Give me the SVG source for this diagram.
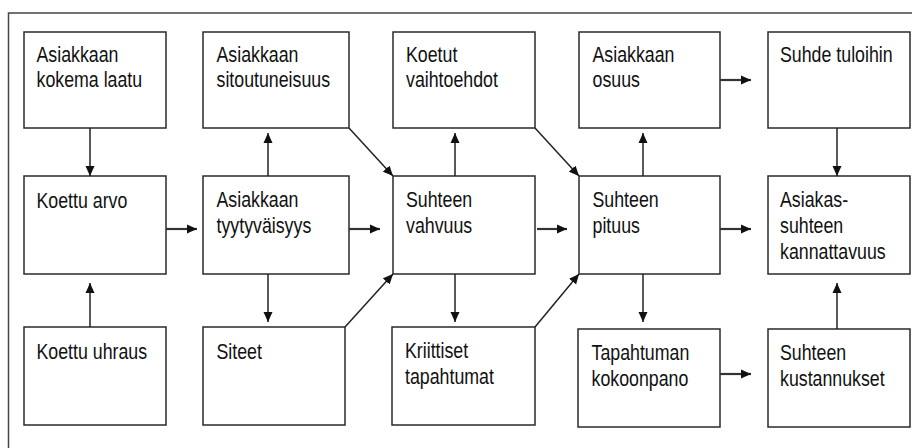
<svg xmlns="http://www.w3.org/2000/svg" width="912" height="448" viewBox="0 0 912 448">
<style>
.box{fill:#fff;stroke:#2a2a2a;stroke-width:1.5}
.t{font-family:"Liberation Sans",Arial,sans-serif;font-size:22.5px;fill:#111}
.c{fill:none;stroke:#222;stroke-width:1.5}
.h{fill:none;stroke:#333;stroke-width:2.2}
.frame{fill:none;stroke:#444;stroke-width:1.5}
</style>
<defs>
<marker id="a" markerUnits="userSpaceOnUse" markerWidth="10" markerHeight="10" refX="10" refY="5" orient="auto">
<path d="M0,0.5 L10,5 L0,9.5 z" fill="#111"/>
</marker>
</defs>
<rect width="912" height="448" fill="#fff"/>
<path class="frame" d="M912,13 H8.5 V448"/>
<g id="n1"><rect class="box" x="24" y="32" width="142" height="96"/><text class="t" transform="translate(36.5,61.5) scale(0.79,1)"><tspan x="0">Asiakkaan</tspan><tspan x="0" dy="26">kokema laatu</tspan></text></g>
<g id="n2"><rect class="box" x="203" y="32" width="146" height="96"/><text class="t" transform="translate(216.5,61.5) scale(0.79,1)"><tspan x="0">Asiakkaan</tspan><tspan x="0" dy="26">sitoutuneisuus</tspan></text></g>
<g id="n3"><rect class="box" x="393" y="32" width="142" height="96"/><text class="t" transform="translate(406,61.5) scale(0.79,1)"><tspan x="0">Koetut</tspan><tspan x="0" dy="26">vaihtoehdot</tspan></text></g>
<g id="n4"><rect class="box" x="579" y="32" width="141" height="96"/><text class="t" transform="translate(592.5,61.5) scale(0.79,1)"><tspan x="0">Asiakkaan</tspan><tspan x="0" dy="26">osuus</tspan></text></g>
<g id="n5"><rect class="box" x="768" y="32" width="142" height="96"/><text class="t" transform="translate(780,61.5) scale(0.79,1)"><tspan x="0">Suhde tuloihin</tspan></text></g>
<g id="n6"><rect class="box" x="24" y="176" width="142" height="98"/><text class="t" transform="translate(36.5,207.5) scale(0.79,1)"><tspan x="0">Koettu arvo</tspan></text></g>
<g id="n7"><rect class="box" x="203" y="176" width="146" height="98"/><text class="t" transform="translate(216.5,207) scale(0.79,1)"><tspan x="0">Asiakkaan</tspan><tspan x="0" dy="26">tyytyväisyys</tspan></text></g>
<g id="n8"><rect class="box" x="393" y="176" width="142" height="98"/><text class="t" transform="translate(406,207) scale(0.79,1)"><tspan x="0">Suhteen</tspan><tspan x="0" dy="26">vahvuus</tspan></text></g>
<g id="n9"><rect class="box" x="579" y="176" width="141" height="98"/><text class="t" transform="translate(592.5,207) scale(0.79,1)"><tspan x="0">Suhteen</tspan><tspan x="0" dy="26">pituus</tspan></text></g>
<g id="n10"><rect class="box" x="768" y="176" width="142" height="98"/><text class="t" transform="translate(780,207) scale(0.79,1)"><tspan x="0">Asiakas-</tspan><tspan x="0" dy="26">suhteen</tspan><tspan x="0" dy="26">kannattavuus</tspan></text></g>
<g id="n11"><rect class="box" x="24" y="327" width="142" height="98"/><text class="t" transform="translate(36.5,359) scale(0.79,1)"><tspan x="0">Koettu uhraus</tspan></text></g>
<g id="n12"><rect class="box" x="203" y="327" width="142" height="98"/><text class="t" transform="translate(216.5,359) scale(0.79,1)"><tspan x="0">Siteet</tspan></text></g>
<g id="n13"><rect class="box" x="392" y="327" width="143" height="98"/><text class="t" transform="translate(405,358) scale(0.79,1)"><tspan x="0">Kriittiset</tspan><tspan x="0" dy="26">tapahtumat</tspan></text></g>
<g id="n14"><rect class="box" x="578" y="329" width="142" height="98"/><text class="t" transform="translate(591.5,360) scale(0.79,1)"><tspan x="0">Tapahtuman</tspan><tspan x="0" dy="26">kokoonpano</tspan></text></g>
<g id="n15"><rect class="box" x="768" y="329" width="142" height="98"/><text class="t" transform="translate(780,360) scale(0.79,1)"><tspan x="0">Suhteen</tspan><tspan x="0" dy="26">kustannukset</tspan></text></g>
<g id="connectors">
<path class="c" d="M90,128 V176" marker-end="url(#a)"/>
<path class="c" d="M90,327 V283" marker-end="url(#a)"/>
<path class="c" d="M268,176 V133" marker-end="url(#a)"/>
<path class="c" d="M268,274 V322" marker-end="url(#a)"/>
<path class="c" d="M455,176 V133" marker-end="url(#a)"/>
<path class="c" d="M455,274 V322" marker-end="url(#a)"/>
<path class="c" d="M643,176 V133" marker-end="url(#a)"/>
<path class="c" d="M643,274 V322" marker-end="url(#a)"/>
<path class="c" d="M837,128 V176" marker-end="url(#a)"/>
<path class="c" d="M837,329 V283" marker-end="url(#a)"/>
<path class="h" d="M166,229 H197" marker-end="url(#a)"/>
<path class="h" d="M349,229 H380" marker-end="url(#a)"/>
<path class="h" d="M537,229 H567" marker-end="url(#a)"/>
<path class="h" d="M720,229 H751" marker-end="url(#a)"/>
<path class="h" d="M720,80 H751" marker-end="url(#a)"/>
<path class="h" d="M720,374 H751" marker-end="url(#a)"/>
<path class="c" d="M349,128 L393,176" marker-end="url(#a)"/>
<path class="c" d="M345,327 L393,274" marker-end="url(#a)"/>
<path class="c" d="M535,128 L579,176" marker-end="url(#a)"/>
<path class="c" d="M535,327 L579,274" marker-end="url(#a)"/>
</g>
</svg>
